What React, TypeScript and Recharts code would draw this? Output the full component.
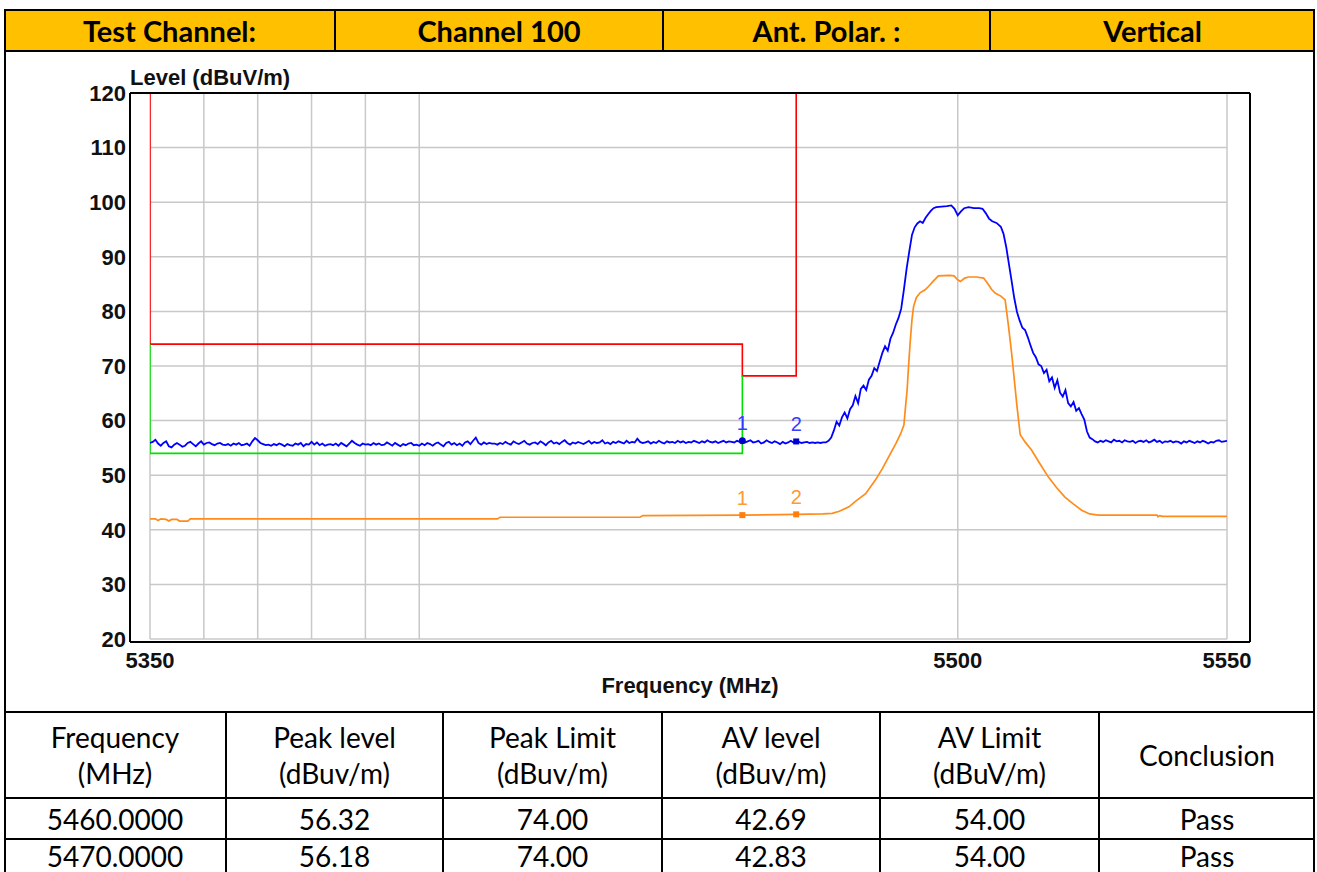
import React from 'react'
import { ComposedChart, Line, Scatter, XAxis, YAxis, ReferenceLine, Label, LabelList } from 'recharts'

// header / result table text
const headerCells = ['Test Channel:', 'Channel 100', 'Ant. Polar. :', 'Vertical']
const tableHead = [['Frequency', '(MHz)'], ['Peak level', '(dBuv/m)'], ['Peak Limit', '(dBuv/m)'], ['AV level', '(dBuv/m)'], ['AV Limit', '(dBuV/m)'], ['Conclusion']]
const tableRows = [
  ['5460.0000', '56.32', '74.00', '42.69', '54.00', 'Pass'],
  ['5470.0000', '56.18', '74.00', '42.83', '54.00', 'Pass'],
]

// axes
const xTicks = [5350, 5500, 5550]
const xGrid = [5350, 5360, 5370, 5380, 5390, 5400, 5500, 5550]
const yTicks = [20, 30, 40, 50, 60, 70, 80, 90, 100, 110, 120]

// peak trace: flat noise 5350..5475 every 0.5 MHz
const peakNoiseLeft = [
  55.9, 56.1, 56.5, 55.8, 55.4, 55.9, 56.2, 55.3, 55.1, 55.6, 55.9, 55.6, 55.2, 55.4, 55.9, 56.1, 55.7, 55.3, 55.8, 56.2,
  55.6, 55.9, 56.0, 55.7, 55.5, 55.8, 55.9, 55.6, 55.5, 55.7, 55.4, 55.8, 55.6, 55.9, 55.5, 55.6, 55.8, 55.4, 56.2, 56.8,
  56.4, 55.9, 55.7, 55.5, 55.6, 55.4, 55.7, 55.5, 55.8, 55.6, 55.3, 55.7, 55.5, 55.4, 55.8, 55.6, 55.9, 55.3, 55.7, 55.6,
  56.1, 55.6, 56.0, 55.5, 55.8, 55.4, 55.6, 55.7, 55.5, 55.8, 55.4, 55.9, 55.6, 55.3, 55.8, 56.3, 55.9, 55.6, 55.4, 55.8,
  55.6, 55.7, 55.5, 55.9, 55.6, 55.8, 55.5, 55.6, 56.0, 55.7, 55.4, 55.9, 55.6, 55.3, 55.7, 55.5, 55.8, 55.9, 55.5, 55.6,
  55.4, 55.8, 55.5, 55.9, 55.7, 55.4, 55.8, 56.0, 55.6, 55.3, 55.9, 56.1, 55.6, 55.9, 55.5, 55.8, 55.4, 56.0, 56.2, 55.7,
  56.3, 56.9, 55.9, 55.6, 56.0, 55.7, 55.9, 55.8, 55.8, 55.6, 55.9, 55.7, 56.1, 55.8, 55.6, 56.2, 55.9, 55.7, 56.0, 56.3,
  55.8, 55.6, 55.9, 56.0, 55.7, 56.2, 55.9, 55.5, 56.0, 56.3, 55.8, 56.0, 55.7, 56.1, 56.4, 55.9, 55.6, 56.0, 55.8, 56.1,
  55.9, 55.7, 56.0, 56.3, 55.8, 56.1, 55.9, 56.0, 56.4, 55.8, 56.0, 55.7, 56.1, 55.9, 56.2, 56.0, 55.8, 56.3, 55.9, 56.1,
  56.0, 56.7, 56.1, 55.9, 56.0, 56.2, 55.8, 56.1, 55.9, 56.3, 56.0, 55.8, 56.2, 56.0, 56.1, 55.9, 56.3, 56.0, 56.2, 55.9,
  56.1, 56.0, 56.3, 56.1, 55.9, 56.2, 56.0, 56.4, 56.1, 56.0, 56.2, 55.9, 56.1, 56.3, 56.0, 56.2, 56.1, 56.0, 56.3, 56.1,
  56.32, 56.0, 56.2, 56.4, 56.0, 56.1, 56.3, 55.8, 56.0, 56.4, 56.1, 55.9, 56.2, 56.0, 55.7, 56.1, 55.8, 56.0, 56.3, 56.0,
  56.18, 56.1, 55.9, 56.0, 56.1, 55.9, 56.0, 55.9, 56.0, 55.9, 56.0,
]

// peak trace over the occupied band
const peakBandFreq = [
  5475.5, 5476, 5476.5, 5477, 5477.5, 5478, 5478.5, 5479, 5479.5, 5480, 5480.5, 5481, 5481.5, 5482, 5482.5, 5483, 5483.5,
  5484, 5484.5, 5485, 5485.5, 5486, 5486.5, 5487, 5487.5, 5488, 5488.5, 5489, 5489.5, 5490, 5490.5, 5491, 5491.5, 5492,
  5492.5, 5493, 5493.5, 5494, 5494.5, 5495, 5495.5, 5496, 5497, 5498, 5498.8, 5499.4, 5500, 5500.6, 5501.2, 5502, 5503,
  5504, 5504.6, 5505.2, 5505.8, 5506.4, 5507.2, 5508, 5508.5, 5509, 5509.5, 5510, 5510.5, 5511, 5511.5, 5512, 5512.5,
  5513, 5513.5, 5514, 5514.5, 5515, 5515.5, 5516, 5516.5, 5517, 5517.5, 5518, 5518.5, 5519, 5519.5, 5520, 5520.5, 5521,
  5521.5, 5522, 5522.5, 5523, 5523.5, 5524, 5524.5, 5525, 5525.5,
]
const peakBandLevel = [
  56.0, 56.3, 56.9, 58.2, 59.8, 59.1, 60.6, 61.5, 60.4, 62.1, 62.8, 64.5, 63.2, 65.8, 66.4, 65.6, 67.5,
  68.2, 69.6, 69.1, 70.8, 72.4, 73.6, 72.8, 75.0, 76.1, 77.6, 78.8, 80.5, 84.0, 87.8, 91.0, 94.0, 95.4,
  96.1, 96.5, 96.2, 97.1, 97.8, 98.4, 98.9, 99.1, 99.2, 99.3, 99.4, 98.8, 97.6, 98.3, 98.9, 99.1, 98.9,
  98.9, 98.8, 98.0, 97.0, 96.5, 96.2, 95.5, 94.2, 91.8, 88.7, 85.6, 82.4, 79.9, 78.3, 77.0, 76.6,
  75.3, 73.8, 72.4, 71.6, 70.3, 70.0, 68.7, 69.3, 67.2, 67.9, 66.0, 67.4, 65.1, 64.4, 65.6, 63.2, 62.6,
  63.4, 61.8, 62.3, 61.2, 60.2, 58.0, 56.9, 56.6, 56.2,
]

// peak trace: flat noise 5526..5550 every 0.5 MHz
const peakNoiseRight = [
  56.0, 56.3, 56.1, 56.4, 56.2, 56.0, 56.5, 56.2, 56.3, 56.0,
  56.4, 56.2, 56.1, 56.3, 55.9, 56.2, 56.3, 56.1, 56.4, 56.0,
  56.2, 56.5, 56.1, 56.3, 55.9, 56.2, 56.1, 56.3, 56.0, 56.2,
  56.1, 55.8, 56.2, 56.0, 56.3, 56.1, 55.9, 56.2, 56.0, 56.3,
  56.1, 55.8, 56.1, 56.0, 56.3, 56.4, 56.1, 56.2, 56.3,
]

// average trace
const avFreq = [
  5350, 5351, 5351.5, 5352, 5353, 5353.5, 5354, 5355, 5355.5, 5357, 5357.5, 5414.5, 5415, 5441, 5441.5, 5460, 5470, 5475,
  5476.7, 5478, 5479.8, 5481, 5482.9, 5484.7, 5486, 5487.2, 5488.5, 5489.4, 5490, 5490.3, 5490.6, 5490.9, 5491.2, 5491.5,
  5491.8, 5492.3, 5493, 5494, 5494.6, 5495.5, 5496.4, 5498.5, 5499.3, 5500, 5500.5, 5501.3, 5502, 5503.5, 5504.8, 5505.5,
  5506.3, 5507, 5508, 5508.8, 5509.4, 5510, 5510.5, 5511, 5511.6, 5512.5, 5513.7, 5515, 5516.8, 5518.3, 5519.9, 5521.5,
  5523, 5524.5, 5526.1, 5537, 5537.2, 5537.5, 5538, 5550,
]
const avLevel = [
  42.0, 42.0, 41.7, 42.0, 41.9, 41.6, 41.9, 41.9, 41.6, 41.6, 42.0, 42.0, 42.3, 42.3, 42.6, 42.69, 42.83, 42.9,
  43.0, 43.4, 44.2, 45.2, 46.6, 49.1, 51.2, 53.4, 55.8, 57.6, 59.2, 62.5, 65.6, 70.5, 74.8, 78.5,
  80.9, 82.5, 83.4, 84.0, 84.6, 85.6, 86.5, 86.6, 86.5, 85.8, 85.5, 86.1, 86.3, 86.3, 86.1, 85.2,
  84.0, 83.3, 82.8, 82.1, 77.5, 72.4, 67.5, 62.6, 57.4, 56.1, 54.6, 52.5, 49.7, 47.8, 46.0, 44.7,
  43.6, 42.9, 42.7, 42.7, 42.4, 42.6, 42.45, 42.45,
]

// limit lines
const peakLimitFreq = [5350, 5350, 5460, 5460, 5470, 5470]
const peakLimitLevel = [120, 74, 74, 68.2, 68.2, 120]
const avLimitFreq = [5350, 5350, 5460, 5460]
const avLimitLevel = [74, 54, 54, 68.2]

// markers
const markerFreq = [5460, 5470]
const markerLabel = ['1', '2']
const peakMarkerLevel = [56.32, 56.18]
const avMarkerLevel = [42.69, 42.83]

const step = 0.5
const peakData = [
  ...peakNoiseLeft.map((v, i) => ({ f: 5350 + i * step, v })),
  ...peakBandFreq.map((f, i) => ({ f, v: peakBandLevel[i] })),
  ...peakNoiseRight.map((v, i) => ({ f: 5526 + i * step, v })),
]
const avData = avFreq.map((f, i) => ({ f, v: avLevel[i] }))
const peakLimitData = peakLimitFreq.map((f, i) => ({ f, v: peakLimitLevel[i] }))
const avLimitData = avLimitFreq.map((f, i) => ({ f, v: avLimitLevel[i] }))
const peakMarkers = markerFreq.map((f, i) => ({ f, v: peakMarkerLevel[i], label: markerLabel[i] }))
const avMarkers = markerFreq.map((f, i) => ({ f, v: avMarkerLevel[i], label: markerLabel[i] }))

const chartFont = '"Liberation Sans", Arial, sans-serif'
const docFont = 'Lato, "Noto Sans", sans-serif'
const gridColor = '#c8c8c8'
const frame = { stroke: '#000', strokeWidth: 2 }
const tickStyle = { fill: '#111', fontSize: 22, fontWeight: 'bold', fontFamily: chartFont }

function HLine({ x1, x2, y, w = 2 }: { x1: number; x2: number; y: number; w?: number }) {
  return <div style={{ position: 'absolute', left: x1, top: y - w / 2, width: x2 - x1, height: w, background: '#000' }} />
}
function VLine({ y1, y2, x, w = 2 }: { y1: number; y2: number; x: number; w?: number }) {
  return <div style={{ position: 'absolute', left: x - w / 2, top: y1, width: w, height: y2 - y1, background: '#000' }} />
}
function Cell({ x1, x2, y1, y2, children, style }: any) {
  return (
    <div style={{
      position: 'absolute', left: x1, top: y1, width: x2 - x1, height: y2 - y1,
      display: 'flex', flexDirection: 'column', alignItems: 'center', justifyContent: 'center',
      textAlign: 'center', whiteSpace: 'nowrap', ...style,
    }}>{children}</div>
  )
}

const headXs = [4, 335, 663, 990, 1315]
const tableXs = [4, 226, 443, 662, 880, 1099, 1315]
const tableYs = [712, 798, 839, 873]

function MarkerShape(props: any) {
  const { cx, cy, index, fill, round } = props
  if (cx == null || cy == null) return null
  if (round && index === 0) return <circle cx={cx} cy={cy} r={3.5} fill={fill} />
  return <rect x={cx - 3} y={cy - 3} width={6} height={6} fill={fill} />
}

function Chart() {
  return (
    <ComposedChart width={1317} height={660} margin={{ top: 40, right: 66, bottom: 69, left: 129 }}>
      <XAxis dataKey="f" type="number" domain={[5350, 5550]} ticks={xTicks} interval={0}
        padding={{ left: 20, right: 23 }} height={1} tickSize={0} tickMargin={10} tickLine={false}
        axisLine={frame} tick={tickStyle} allowDataOverflow>
        <Label value="Frequency (MHz)" position="bottom" offset={34} fill="#111"
          style={{ fontSize: 22, fontWeight: 'bold', fontFamily: chartFont }} />
      </XAxis>
      <XAxis xAxisId="top" orientation="top" type="number" domain={[5350, 5550]} height={1}
        ticks={xTicks} tick={false} tickLine={false} axisLine={frame} />
      <YAxis type="number" domain={[20, 120]} ticks={yTicks} interval={0} width={1}
        padding={{ top: 0, bottom: 3 }} tickSize={0} tickMargin={4} tickLine={false}
        axisLine={frame} tick={tickStyle} allowDataOverflow>
        <Label value="Level (dBuV/m)" position="insideTopLeft" offset={0} dx={1} dy={-24} fill="#111"
          style={{ fontSize: 22, fontWeight: 'bold', fontFamily: chartFont }} />
      </YAxis>
      <YAxis yAxisId="right" orientation="right" type="number" domain={[20, 120]} width={1}
        ticks={yTicks} tick={false} tickLine={false} axisLine={frame} />

      {yTicks.map((v) => (
        <ReferenceLine key={'h' + v} segment={[{ x: 5350, y: v }, { x: 5550, y: v }]} stroke={gridColor} strokeWidth={1.5} />
      ))}
      {xGrid.map((f) => (
        <ReferenceLine key={'v' + f} segment={[{ x: f, y: 20 }, { x: f, y: 120 }]} stroke={gridColor} strokeWidth={1.5} />
      ))}

      <Line data={peakLimitData} dataKey="v" type="linear" stroke="#ff0000" strokeWidth={1.6} dot={false} isAnimationActive={false} />
      <Line data={avLimitData} dataKey="v" type="linear" stroke="#00e000" strokeWidth={1.6} dot={false} isAnimationActive={false} />
      <Line data={avData} dataKey="v" type="linear" stroke="#ff8c1a" strokeWidth={1.7} dot={false} isAnimationActive={false} />
      <Line data={peakData} dataKey="v" type="linear" stroke="#0000ff" strokeWidth={1.8} dot={false} isAnimationActive={false} />

      <Scatter data={peakMarkers} dataKey="v" fill="#0000cc" isAnimationActive={false}
        shape={(p: any) => <MarkerShape {...p} fill="#0000cc" round />}>
        <LabelList dataKey="label" position="top" offset={6} fill="#3a3aff"
          style={{ fontSize: 20, fontFamily: chartFont }} />
      </Scatter>
      <Scatter data={avMarkers} dataKey="v" fill="#ff7f0e" isAnimationActive={false}
        shape={(p: any) => <MarkerShape {...p} fill="#ff7f0e" />}>
        <LabelList dataKey="label" position="top" offset={6} fill="#ff9933"
          style={{ fontSize: 20, fontFamily: chartFont }} />
      </Scatter>
    </ComposedChart>
  )
}

export default function App() {
  return (
    <div style={{ position: 'absolute', left: 0, top: 0, width: 1317, height: 872, background: '#fff', overflow: 'hidden', color: '#000' }}>
      {/* header row */}
      <div style={{ position: 'absolute', left: 4, top: 9, width: 1311, height: 42, background: '#ffc000' }} />
      {headerCells.map((t, i) => (
        <Cell key={t} x1={headXs[i]} x2={headXs[i + 1]} y1={10} y2={51}
          style={{ fontFamily: docFont, fontWeight: 'bold', fontSize: 29 }}>{t}</Cell>
      ))}
      <HLine x1={4} x2={1315} y={10} />
      <HLine x1={4} x2={1315} y={51} />
      {headXs.slice(1, -1).map((x) => <VLine key={x} x={x} y1={9} y2={51} />)}

      {/* chart cell */}
      <div style={{ position: 'absolute', left: 0, top: 52 }}>
        <Chart />
      </div>

      {/* results table */}
      {tableYs.slice(0, 3).map((y) => <HLine key={y} x1={4} x2={1315} y={y} />)}
      {tableXs.slice(1, -1).map((x) => <VLine key={x} x={x} y1={712} y2={872} />)}
      {tableHead.map((lines, i) => (
        <Cell key={'th' + i} x1={tableXs[i]} x2={tableXs[i + 1]} y1={712} y2={798}
          style={{ fontFamily: docFont, fontSize: 28, lineHeight: '36px' }}>
          {lines.map((l) => <div key={l}>{l}</div>)}
        </Cell>
      ))}
      {tableRows.map((row, r) =>
        row.map((t, i) => (
          <Cell key={r + '-' + i} x1={tableXs[i]} x2={tableXs[i + 1]} y1={tableYs[r + 1]} y2={tableYs[r + 2]}
            style={{ fontFamily: docFont, fontSize: 28, lineHeight: '28px' }}>{t}</Cell>
        ))
      )}

      {/* outer borders */}
      <VLine x={5} y1={9} y2={872} />
      <VLine x={1314} y1={9} y2={872} />
    </div>
  )
}
